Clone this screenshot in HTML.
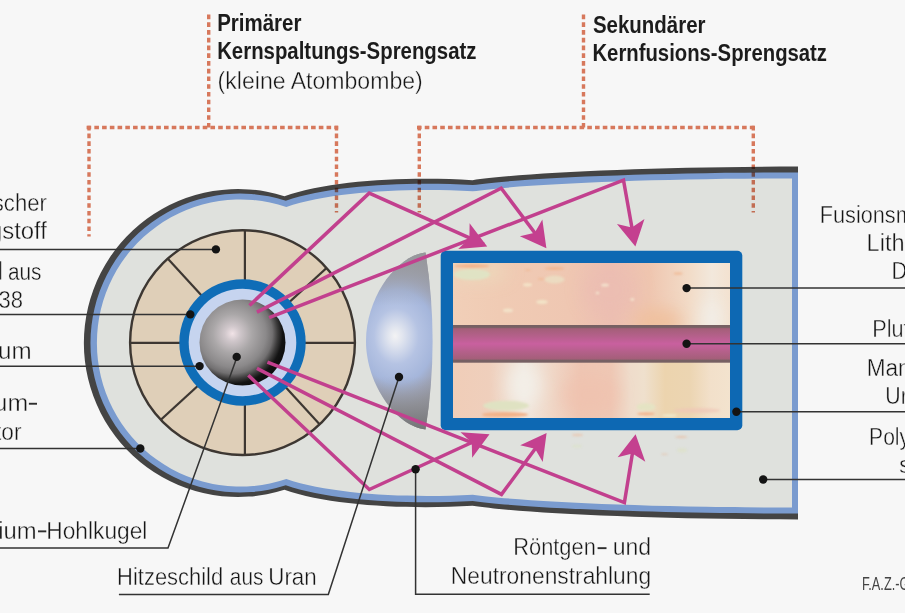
<!DOCTYPE html>
<html><head><meta charset="utf-8"><title>Wasserstoffbombe</title>
<style>
html,body{margin:0;padding:0;background:#f7f7f7;}
body{width:905px;height:613px;overflow:hidden;font-family:"Liberation Sans",sans-serif;}
svg{display:block;}
text{font-family:"Liberation Sans",sans-serif;}
.t{font-size:24.6px;fill:#151515;stroke:#f7f7f7;stroke-width:0.4;}
.b{font-size:24.6px;font-weight:bold;fill:#1c1c1c;}
.f{font-size:17.7px;fill:#444;}
.ld{stroke:#333;stroke-width:1.5;fill:none;}
.dot{fill:#141414;}
.ray{stroke:#c2408e;stroke-width:3.5;fill:none;stroke-linejoin:miter;}
.ah{fill:#c4408f;}
.dash{stroke:#de7c5f;stroke-width:3.4;fill:none;stroke-dasharray:4.6 3.14;}
</style></head>
<body>
<svg width="905" height="613" viewBox="0 0 905 613">
<defs>
  <radialGradient id="sphere" cx="232.4" cy="333.6" r="54" gradientUnits="userSpaceOnUse">
    <stop offset="0" stop-color="#f1e3e7"/>
    <stop offset="0.14" stop-color="#d0c7cb"/>
    <stop offset="0.36" stop-color="#aaa7a8"/>
    <stop offset="0.62" stop-color="#8b898a"/>
    <stop offset="0.74" stop-color="#727071"/>
    <stop offset="0.84" stop-color="#3b3a3a"/>
    <stop offset="0.93" stop-color="#131313"/>
    <stop offset="1" stop-color="#0e0e0e"/>
  </radialGradient>
  <radialGradient id="lens" cx="399" cy="337" fx="394" fy="336" r="90" gradientUnits="userSpaceOnUse" gradientTransform="translate(399 337) scale(0.8 1) translate(-399 -337)">
    <stop offset="0" stop-color="#f3f3f4"/>
    <stop offset="0.1" stop-color="#e1e5ef"/>
    <stop offset="0.31" stop-color="#b5c3e3"/>
    <stop offset="0.52" stop-color="#a5b6db"/>
    <stop offset="0.66" stop-color="#9ea4b8"/>
    <stop offset="0.8" stop-color="#94959c"/>
    <stop offset="1" stop-color="#838385"/>
  </radialGradient>
  <linearGradient id="lensBand" x1="0" y1="252.6" x2="0" y2="429.4" gradientUnits="userSpaceOnUse">
    <stop offset="0" stop-color="#98989c" stop-opacity="0.9"/>
    <stop offset="0.12" stop-color="#9c9ea6" stop-opacity="0.75"/>
    <stop offset="0.3" stop-color="#a3a9bb" stop-opacity="0"/>
    <stop offset="0.7" stop-color="#9a9eac" stop-opacity="0"/>
    <stop offset="0.86" stop-color="#8b8c92" stop-opacity="0.7"/>
    <stop offset="1" stop-color="#747476" stop-opacity="0.95"/>
  </linearGradient>
  <linearGradient id="rod" x1="0" y1="325" x2="0" y2="362.7" gradientUnits="userSpaceOnUse">
    <stop offset="0" stop-color="#766063"/>
    <stop offset="0.06" stop-color="#766063"/>
    <stop offset="0.1" stop-color="#a45f79"/>
    <stop offset="0.3" stop-color="#b5608b"/>
    <stop offset="0.5" stop-color="#c9609f"/>
    <stop offset="0.7" stop-color="#b5608b"/>
    <stop offset="0.9" stop-color="#a45f79"/>
    <stop offset="0.94" stop-color="#766063"/>
    <stop offset="1" stop-color="#766063"/>
  </linearGradient>
  <linearGradient id="fuelTop" x1="453" y1="0" x2="730" y2="0" gradientUnits="userSpaceOnUse">
    <stop offset="0" stop-color="#f1cfb8"/>
    <stop offset="0.17" stop-color="#f0cbb4"/>
    <stop offset="0.42" stop-color="#efc7b2"/>
    <stop offset="0.57" stop-color="#edbfb1"/>
    <stop offset="0.71" stop-color="#efc6b0"/>
    <stop offset="0.855" stop-color="#f2dcc8"/>
    <stop offset="0.935" stop-color="#f2e8dc"/>
    <stop offset="1" stop-color="#f3e2d0"/>
  </linearGradient>
  <linearGradient id="fuelBot" x1="453" y1="0" x2="730" y2="0" gradientUnits="userSpaceOnUse">
    <stop offset="0" stop-color="#f0cdb8"/>
    <stop offset="0.13" stop-color="#efcfbc"/>
    <stop offset="0.255" stop-color="#f1e8de"/>
    <stop offset="0.35" stop-color="#f0d8c8"/>
    <stop offset="0.46" stop-color="#efc6b3"/>
    <stop offset="0.57" stop-color="#efc8b5"/>
    <stop offset="0.64" stop-color="#efdccb"/>
    <stop offset="0.69" stop-color="#efe0cd"/>
    <stop offset="0.765" stop-color="#ecd4ae"/>
    <stop offset="0.855" stop-color="#ecd5b2"/>
    <stop offset="0.93" stop-color="#f2e0ca"/>
    <stop offset="1" stop-color="#f3e3ce"/>
  </linearGradient>
  <filter id="blur8" x="-20%" y="-20%" width="140%" height="140%"><feGaussianBlur stdDeviation="8"/></filter>
  <filter id="blur1" x="-20%" y="-20%" width="140%" height="140%"><feGaussianBlur stdDeviation="0.8"/></filter>
  <clipPath id="beigeClip"><circle cx="242.5" cy="342.6" r="112.4"/></clipPath>
  <clipPath id="fuelClip"><rect x="453" y="263" width="277" height="155"/></clipPath>
  <path id="arrow" d="M0,0 L-25.5,-14 L-19.5,0 L-25.5,14 Z"/>
</defs>

<rect x="0" y="0" width="905" height="613" fill="#f7f7f7"/>

<!-- casing -->
<path fill="#444444" d="M798,166.6 C650,166.6 520,173 472.5,180.2 C410,176.3 330,180 284.4,196.2 A154,154 0 1 0 284.4,489.8 C330,506 410,509.7 472.5,505.8 C520,513 650,519.4 798,519.4 Z"/>
<path fill="#7a9bcf" d="M798,172.5 C650,172.5 520,178.2 472.7,185.1 C410,181.4 331,185 285.8,200.7 A149.5,149.5 0 1 0 285.8,485.3 C331,501 410,504.6 472.7,500.9 C520,507.8 650,513.5 798,513.5 Z"/>
<path fill="#dfe1dd" d="M792,178.5 C650,178.5 520,184.5 472.8,191.3 C410,187.6 332,191.3 286.3,206.9 A143.6,143.6 0 1 0 286.3,479.1 C332,494.7 410,498.4 472.8,494.7 C520,501.5 650,507.5 792,507.5 Z"/>

<!-- primary -->
<circle cx="242.5" cy="342.6" r="112.4" fill="#dfcfb8"/>
<g stroke="#3d3732" stroke-width="2.2" clip-path="url(#beigeClip)">
  <line x1="244.9" y1="225" x2="244.9" y2="460"/>
  <line x1="125" y1="342.8" x2="360" y2="342.8"/>
  <line x1="244.9" y1="342.8" x2="244.9" y2="180" transform="rotate(47.5 244.9 342.8)"/>
  <line x1="244.9" y1="342.8" x2="244.9" y2="180" transform="rotate(137.5 244.9 342.8)"/>
  <line x1="244.9" y1="342.8" x2="244.9" y2="180" transform="rotate(227.5 244.9 342.8)"/>
  <line x1="244.9" y1="342.8" x2="244.9" y2="180" transform="rotate(317.5 244.9 342.8)"/>
</g>
<circle cx="242.5" cy="342.6" r="112.4" fill="none" stroke="#3d3732" stroke-width="2.4"/>
<circle cx="242.5" cy="342.5" r="63.2" fill="#0f6db7"/>
<circle cx="242.5" cy="342.5" r="53.8" fill="#c6d4ef"/>
<circle cx="242.5" cy="342.5" r="43" fill="url(#sphere)"/>

<!-- heat shield lens -->
<path d="M425.5,252.6 C398,255 366,296 366,341 C366,386 398,427 425.5,429.4 Q439.7,341 425.5,252.6 Z" fill="url(#lens)"/>
<path d="M425.5,252.6 C398,255 366,296 366,341 C366,386 398,427 425.5,429.4 Q439.7,341 425.5,252.6 Z" fill="url(#lensBand)"/>

<!-- secondary -->
<rect x="440.7" y="250.7" width="301.6" height="179.5" rx="5" ry="5" fill="#0d68b3"/>
<rect x="453" y="263" width="277" height="62.5" fill="url(#fuelTop)"/>
<rect x="453" y="362" width="277" height="56" fill="url(#fuelBot)"/>
<g clip-path="url(#fuelClip)">
  <g filter="url(#blur8)">
    <ellipse cx="610" cy="290" rx="28" ry="26" fill="#ebbcb2" opacity="0.55"/>
    <ellipse cx="658" cy="322" rx="24" ry="14" fill="#efc09c" opacity="0.9"/>
    <ellipse cx="478" cy="272" rx="30" ry="10" fill="#ecd9bc" opacity="0.8"/>
    <ellipse cx="712" cy="318" rx="10" ry="18" fill="#f2eee8" opacity="0.9"/>
    <ellipse cx="524" cy="385" rx="16" ry="22" fill="#f3efe9" opacity="0.9"/>
    <ellipse cx="590" cy="395" rx="28" ry="20" fill="#efc2ae" opacity="0.7"/>
  </g>
  <g filter="url(#blur1)">
    <ellipse cx="472" cy="274.5" rx="18" ry="5.5" fill="#e0e3c4"/>
    <ellipse cx="472" cy="266" rx="17.5" ry="1.9" fill="#f2b48d"/>
    <ellipse cx="554.5" cy="268.5" rx="10" ry="1.4" fill="#f2b691"/>
    <ellipse cx="554.5" cy="279.5" rx="10" ry="4" fill="#ebe0c4" opacity="0.8"/>
    <ellipse cx="527.5" cy="284.8" rx="4.6" ry="1.8" fill="#f5ebcf" opacity="0.75"/>
    <ellipse cx="542" cy="302" rx="6" ry="2.2" fill="#f3e9cc" opacity="0.75"/>
    <ellipse cx="508" cy="310.4" rx="5" ry="1.8" fill="#f4ebd0" opacity="0.75"/>
    <ellipse cx="605" cy="285" rx="4" ry="1.6" fill="#f6ecd6" opacity="0.75"/>
    <ellipse cx="597.5" cy="293" rx="2" ry="1.2" fill="#f6ecd6" opacity="0.75"/>
    <ellipse cx="632.3" cy="299.5" rx="2" ry="1.4" fill="#f6ecd6" opacity="0.75"/>
    <ellipse cx="678" cy="273.4" rx="4.5" ry="1" fill="#efb893"/>
    <ellipse cx="527.8" cy="270" rx="3" ry="0.8" fill="#f0b792"/>
    <ellipse cx="541" cy="279" rx="3.5" ry="0.8" fill="#f0b792"/>
    <ellipse cx="506" cy="405.7" rx="23" ry="5" fill="#dfe2c2"/>
    <ellipse cx="505" cy="414.7" rx="23" ry="2.6" fill="#f1b28a"/>
    <ellipse cx="646" cy="407" rx="9.5" ry="3.8" fill="#e4e3c3"/>
    <ellipse cx="646" cy="413.8" rx="9" ry="1.6" fill="#f1b58f"/>
    <ellipse cx="697" cy="410.5" rx="23" ry="2.5" fill="#f0c6b6" opacity="0.7"/>
    <ellipse cx="669.5" cy="415.5" rx="7.5" ry="1.6" fill="#efe6c8"/>
  </g>
</g>
<g filter="url(#blur1)" opacity="0.55">
  <ellipse cx="577.5" cy="435" rx="5.5" ry="1.2" fill="#efb998"/>
  <ellipse cx="577" cy="446.2" rx="5" ry="1.4" fill="#dbe4c4"/>
  <ellipse cx="681.3" cy="437" rx="6.3" ry="1.2" fill="#ecb594"/>
  <ellipse cx="682" cy="450.3" rx="5" ry="2.3" fill="#dde2c2"/>
  <ellipse cx="664.5" cy="454.3" rx="3.5" ry="0.8" fill="#e8b898"/>
</g>
<rect x="453" y="325" width="277" height="37.7" fill="url(#rod)"/>

<!-- rays -->
<g class="ray">
  <polyline points="249.5,305.5 369.2,193.1 484,244.3"/>
  <polyline points="256.9,312.1 501.2,188.2 543,243.8"/>
  <polyline points="269.1,317.7 623.5,180.2 634.3,241"/>
  <polyline points="248.3,375.2 369.3,489.5 486,436"/>
  <polyline points="256.9,368.4 501.5,494.4 543.5,437.5"/>
  <polyline points="267.4,362.2 624.4,502.6 634.6,440"/>
</g>
<g class="ah">
  <use href="#arrow" transform="translate(487.2,246.5) rotate(24)"/>
  <use href="#arrow" transform="translate(546.4,248.3) rotate(53.2)"/>
  <use href="#arrow" transform="translate(635.4,246.6) rotate(79.4)"/>
  <use href="#arrow" transform="translate(489.5,434.3) rotate(-24.6)"/>
  <use href="#arrow" transform="translate(546.6,433.1) rotate(-53.6)"/>
  <use href="#arrow" transform="translate(635.6,434.3) rotate(-80.7)"/>
</g>

<!-- dotted brackets -->
<g class="dash" style="mix-blend-mode:multiply">
  <path d="M208.7,14.6 V128"/>
  <path d="M86.6,127.5 H338.2"/>
  <path d="M89,125.8 V236.5"/>
  <path d="M336.5,125.8 V212.5"/>
  <path d="M583.5,14.6 V128"/>
  <path d="M417,127.5 H755"/>
  <path d="M419.3,125.8 V212.5"/>
  <path d="M753.3,125.8 V212.5"/>
</g>

<!-- leader lines -->
<g class="ld">
  <path d="M0,249.6 H215.9"/>
  <path d="M0,314.4 H190"/>
  <path d="M0,366.2 H200"/>
  <path d="M0,448.6 H140.5"/>
  <path d="M0,548.1 H168 L237,357"/>
  <path d="M118.9,594.4 H328.3 L399,377"/>
  <path d="M649.7,594.2 H415.6 V469.2"/>
  <path d="M686.6,288.1 H905"/>
  <path d="M686.6,343.8 H905"/>
  <path d="M736.4,411.8 H905"/>
  <path d="M763.2,479.5 H905"/>
</g>
<g class="dot">
  <circle cx="215.9" cy="249.4" r="4.2"/>
  <circle cx="190.3" cy="314.4" r="4.2"/>
  <circle cx="199.6" cy="366.1" r="4.2"/>
  <circle cx="140.3" cy="448.5" r="4.2"/>
  <circle cx="236.7" cy="356.9" r="4.2"/>
  <circle cx="399" cy="377" r="4.2"/>
  <circle cx="415.6" cy="469.2" r="4.2"/>
  <circle cx="686.6" cy="288.1" r="4.2"/>
  <circle cx="686.6" cy="343.8" r="4.2"/>
  <circle cx="736.4" cy="411.8" r="4.2"/>
  <circle cx="763.2" cy="479.5" r="4.2"/>
</g>

<!-- text -->
<text class="t" transform="translate(-7.21,211.1) scale(0.8989,1)">scher</text>
<text class="t" transform="translate(-11.10,239.1) scale(0.9724,1)">gstoff</text>
<text class="t" transform="translate(7.95,279.5) scale(0.8450,1)">aus</text>
<text class="t" transform="translate(-1.50,308.0) scale(0.8950,1)">38</text>
<text class="t" transform="translate(-2.03,358.8) scale(0.9824,1)">um</text>
<text class="t" transform="translate(-6.38,411.1) scale(1.0118,1)">um</text>
<text class="t" transform="translate(-4.95,440.4) scale(0.9220,1)">tor</text>
<text class="t" transform="translate(-1.84,538.6) scale(0.9694,1)">ium</text>
<text class="t" transform="translate(46.25,538.6) scale(0.9248,1)">Hohlkugel</text>
<text class="t" transform="translate(117.11,585.0) scale(0.8928,1)">Hitzeschild</text>
<text class="t" transform="translate(229.86,585.0) scale(0.8424,1)">aus</text>
<text class="t" transform="translate(268.28,585.0) scale(0.9085,1)">Uran</text>
<text class="t" transform="translate(513.22,555.4) scale(0.8883,1)">Röntgen</text>
<text class="t" transform="translate(612.69,555.4) scale(0.9368,1)">und</text>
<text class="t" transform="translate(450.85,583.9) scale(0.9271,1)">Neutronenstrahlung</text>
<text class="t" transform="translate(819.74,222.7) scale(0.8817,1)">Fusionsmaterial</text>
<text class="t" transform="translate(866.58,251.3) scale(0.9583,1)">Lithium-</text>
<text class="t" transform="translate(891.54,279.0) scale(0.8800,1)">Deuterid</text>
<text class="t" transform="translate(872.24,336.9) scale(0.8813,1)">Plutonium</text>
<text class="t" transform="translate(866.66,376.0) scale(0.9209,1)">Mantel aus</text>
<text class="t" transform="translate(885.37,404.2) scale(0.8655,1)">Uran 238</text>
<text class="t" transform="translate(869.09,444.8) scale(0.8563,1)">Polystyrol-</text>
<text class="t" transform="translate(899.14,472.6) scale(0.8800,1)">schaum</text>
<text class="t" transform="translate(217.59,88.9) scale(0.9381,1)">(kleine Atombombe)</text>
<text class="b" transform="translate(217.14,30.6) scale(0.8333,1)">Primärer</text>
<text class="b" transform="translate(217.15,59.0) scale(0.8290,1)">Kernspaltungs-Sprengsatz</text>
<text class="b" transform="translate(592.98,33.4) scale(0.8313,1)">Sekundärer</text>
<text class="b" transform="translate(592.46,61.3) scale(0.8252,1)">Kernfusions-Sprengsatz</text>
<text class="f" transform="translate(861.92,589.6) scale(0.7216,1)">F.A.Z.-Grafik</text>
<!-- stubs / hyphens -->
<rect x="0" y="261.3" width="1.2" height="18.2" fill="#2e2e2e"/>
<rect x="28.9" y="402.8" width="8.1" height="1.9" fill="#2e2e2e"/>
<rect x="38" y="530.4" width="8.3" height="1.9" fill="#2e2e2e"/>
<rect x="597.6" y="547.2" width="8.9" height="1.9" fill="#2e2e2e"/>
</svg>
</body></html>
